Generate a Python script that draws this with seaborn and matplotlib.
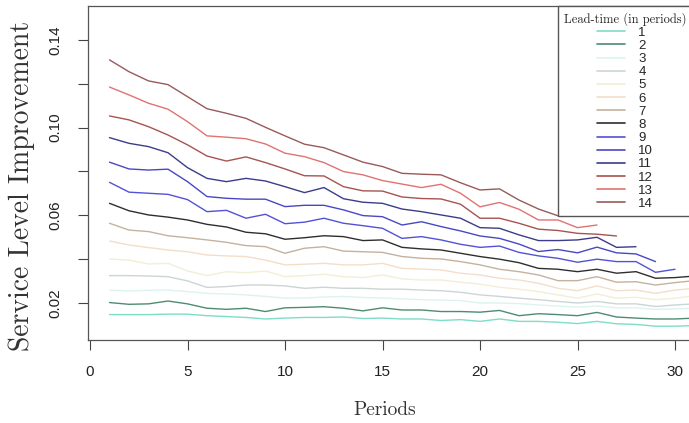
import matplotlib
matplotlib.use("Agg")
import matplotlib.pyplot as plt
from matplotlib.lines import Line2D
import seaborn as sns
import pandas as pd

# Service level improvement per period, one list per lead-time (1..14)
lt1 = [0.0146,0.0146,0.0146,0.0148,0.0148,0.0141,0.0137,0.0133,0.0126,0.0130,0.0133,0.0133,0.0135,0.0128,0.0130,0.0126,0.0126,0.0119,0.0123,0.0115,0.0126,0.0115,0.0115,0.0111,0.0105,0.0115,0.0104,0.0101,0.0093,0.0093,0.0096]
lt2 = [0.0201,0.0193,0.0195,0.0208,0.0195,0.0175,0.0170,0.0175,0.0160,0.0177,0.0179,0.0182,0.0175,0.0163,0.0177,0.0167,0.0167,0.0160,0.0160,0.0157,0.0165,0.0141,0.0150,0.0146,0.0141,0.0156,0.0135,0.0130,0.0126,0.0126,0.0130]
lt3 = [0.0258,0.0254,0.0257,0.0258,0.0251,0.0243,0.0240,0.0236,0.0229,0.0221,0.0222,0.0226,0.0229,0.0224,0.0222,0.0218,0.0214,0.0212,0.0210,0.0199,0.0199,0.0196,0.0190,0.0185,0.0180,0.0185,0.0177,0.0177,0.0170,0.0172,0.0175]
lt4 = [0.0324,0.0324,0.0322,0.0319,0.0300,0.0270,0.0274,0.0281,0.0281,0.0277,0.0266,0.0271,0.0266,0.0266,0.0262,0.0262,0.0258,0.0255,0.0248,0.0236,0.0229,0.0221,0.0214,0.0206,0.0199,0.0206,0.0195,0.0195,0.0183,0.0190,0.0195]
lt5 = [0.0400,0.0395,0.0377,0.0380,0.0345,0.0324,0.0342,0.0337,0.0345,0.0319,0.0324,0.0330,0.0319,0.0315,0.0327,0.0309,0.0304,0.0304,0.0294,0.0285,0.0271,0.0262,0.0251,0.0236,0.0221,0.0240,0.0221,0.0225,0.0214,0.0221,0.0232]
lt6 = [0.0482,0.0464,0.0452,0.0441,0.0433,0.0418,0.0414,0.0411,0.0395,0.0373,0.0376,0.0380,0.0373,0.0373,0.0380,0.0357,0.0354,0.0350,0.0335,0.0327,0.0312,0.0304,0.0289,0.0266,0.0255,0.0277,0.0255,0.0258,0.0243,0.0258,0.0266]
lt7 = [0.0563,0.0532,0.0525,0.0506,0.0497,0.0487,0.0476,0.0461,0.0456,0.0426,0.0449,0.0456,0.0436,0.0433,0.0430,0.0411,0.0403,0.0400,0.0388,0.0373,0.0353,0.0342,0.0327,0.0301,0.0301,0.0319,0.0294,0.0296,0.0281,0.0292,0.0301]
lt8 = [0.0654,0.0620,0.0601,0.0591,0.0578,0.0558,0.0546,0.0522,0.0515,0.0490,0.0497,0.0506,0.0502,0.0484,0.0487,0.0453,0.0446,0.0441,0.0426,0.0411,0.0399,0.0383,0.0357,0.0353,0.0342,0.0353,0.0335,0.0342,0.0312,0.0315,0.0322]
lt9 = [0.0750,0.0705,0.0700,0.0695,0.0671,0.0616,0.0622,0.0586,0.0604,0.0561,0.0568,0.0586,0.0563,0.0552,0.0540,0.0494,0.0502,0.0487,0.0467,0.0453,0.0459,0.0430,0.0414,0.0403,0.0385,0.0399,0.0388,0.0388,0.0339,0.0353]
lt10 = [0.0842,0.0811,0.0806,0.0810,0.0753,0.0685,0.0677,0.0673,0.0673,0.0639,0.0645,0.0645,0.0624,0.0598,0.0593,0.0555,0.0570,0.0548,0.0528,0.0505,0.0494,0.0468,0.0434,0.0443,0.0428,0.0454,0.0428,0.0423,0.0388]
lt11 = [0.0954,0.0928,0.0913,0.0885,0.0817,0.0768,0.0753,0.0768,0.0756,0.0730,0.0703,0.0726,0.0675,0.0659,0.0654,0.0628,0.0616,0.0601,0.0586,0.0543,0.0540,0.0510,0.0484,0.0484,0.0487,0.0499,0.0453,0.0456]
lt12 = [0.1053,0.1035,0.1004,0.0966,0.0921,0.0870,0.0847,0.0866,0.0840,0.0811,0.0780,0.0779,0.0730,0.0711,0.0710,0.0683,0.0676,0.0674,0.0650,0.0586,0.0586,0.0563,0.0536,0.0530,0.0517,0.0513,0.0505]
lt13 = [0.1185,0.1149,0.1111,0.1084,0.1027,0.0962,0.0956,0.0949,0.0925,0.0883,0.0867,0.0840,0.0799,0.0784,0.0758,0.0742,0.0726,0.0741,0.0700,0.0638,0.0658,0.0627,0.0578,0.0578,0.0543,0.0555]
lt14 = [0.1309,0.1255,0.1213,0.1196,0.1141,0.1086,0.1065,0.1042,0.1001,0.0962,0.0924,0.0908,0.0875,0.0842,0.0822,0.0791,0.0787,0.0784,0.0748,0.0715,0.0720,0.0669,0.0628,0.0597,0.0597]

series = [lt1, lt2, lt3, lt4, lt5, lt6, lt7, lt8, lt9, lt10, lt11, lt12, lt13, lt14]
labels = [str(i) for i in range(1, 15)]
colors = ['#7FDCC6', '#4E8C72', '#DDF3EF', '#CCD5D5', '#F3EED6', '#F4DEC9',
          '#C6B19E', '#2E2E2E', '#5252D8', '#4848C4', '#3C3C88', '#A85252',
          '#E07272', '#985A5A']
yticks = [0.02, 0.04, 0.06, 0.08, 0.10, 0.12, 0.14]
ytick_labels = ['0.02', '', '0.06', '', '0.10', '', '0.14']
xticks = [0, 5, 10, 15, 20, 25, 30]

rows = []
for lab, vals in zip(labels, series):
    for p, v in enumerate(vals, start=1):
        rows.append({'Period': p, 'Value': v, 'LeadTime': lab})
df = pd.DataFrame(rows)

sns.set_style('white')
plt.rcParams['font.family'] = ['Liberation Sans', 'DejaVu Sans']

W, H = 689, 423
fig = plt.figure(figsize=(W / 100, H / 100), dpi=100)
ax = fig.add_axes([88 / W, 1 - 340 / H, 603 / W, 334 / H])

sns.lineplot(data=df, x='Period', y='Value', hue='LeadTime', hue_order=labels,
             palette=dict(zip(labels, colors)), legend=False, errorbar=None,
             linewidth=1.0, ax=ax)

ax.set_xlim(-0.103, 30.82)
ax.set_ylim(0.0030, 0.1555)
ax.set_xticks(xticks)
ax.set_xticklabels([str(t) for t in xticks])
ax.set_yticks(yticks)
ax.set_yticklabels(ytick_labels, rotation=90, va='center')
ax.tick_params(axis='both', direction='out', length=7.2, width=0.8, color='#444444',
               labelsize=11, pad=11, labelcolor='#222222')
ax.tick_params(axis='x', bottom=True)
ax.tick_params(axis='y', left=True)
ax.set_xlabel('')
ax.set_ylabel('')
for s in ['left', 'top', 'bottom', 'right']:
    ax.spines[s].set_color('#555555')
    ax.spines[s].set_linewidth(0.9)

fig.text(22 / W, 1 - 186 / H, 'Service Level Improvement', rotation=90,
         ha='center', va='center', fontsize=20, family='cmr10', color='#333333')
fig.text(385 / W, 1 - 410 / H, 'Periods', ha='center', va='center',
         fontsize=14, family='cmr10', color='#333333')

handles = [Line2D([0], [0], color=c, lw=1.2) for c in colors]
leg = fig.legend(handles, labels, loc='upper left',
                 bbox_to_anchor=(558 / W, 1 - 6 / H), borderaxespad=0,
                 frameon=True, fancybox=False, framealpha=1, edgecolor='#555555',
                 fontsize=9.5, labelspacing=0.07, handlelength=2.1,
                 handletextpad=1.0, borderpad=0.45,
                 title='Lead-time (in periods)',
                 title_fontproperties={'family': 'cmr10', 'size': 9})
leg.get_frame().set_linewidth(1.0)
leg.set_zorder(10)

fig.savefig('out.png', dpi=100)
